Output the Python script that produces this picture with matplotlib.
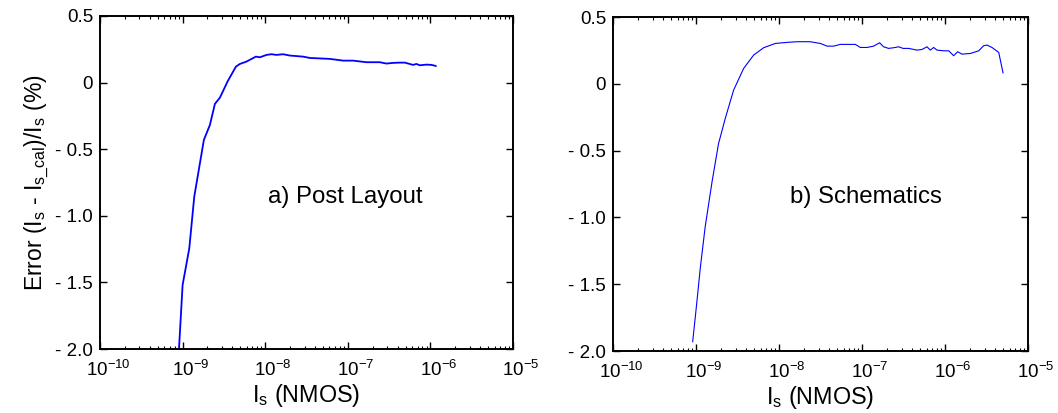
import matplotlib
matplotlib.use("Agg")
import matplotlib.pyplot as plt
from matplotlib.ticker import LogLocator, NullFormatter
from matplotlib.transforms import ScaledTranslation

plt.rcParams['font.family'] = ['Liberation Sans', 'DejaVu Sans']
plt.rcParams['mathtext.fontset'] = 'custom'
plt.rcParams['mathtext.rm'] = 'Liberation Sans'
plt.rcParams['mathtext.it'] = 'Liberation Sans'
plt.rcParams['mathtext.default'] = 'regular'

# a) post layout
post_is = [9.04e-10, 1.0e-9, 1.205e-9, 1.384e-9, 1.81e-9, 2.14e-9, 2.46e-9, 2.83e-9,
           3.50e-9, 4.42e-9, 4.94e-9, 5.94e-9, 7.71e-9, 8.61e-9, 1.04e-8, 1.19e-8,
           1.37e-8, 1.65e-8, 1.99e-8, 2.88e-8, 3.47e-8, 6.05e-8, 8.79e-8, 1.16e-7,
           1.68e-7, 2.44e-7, 2.94e-7, 3.53e-7, 4.26e-7, 4.90e-7, 6.17e-7, 6.78e-7,
           7.43e-7, 8.95e-7, 1.03e-6, 1.16e-6]
post_err = [-2.0, -1.52, -1.244, -0.856, -0.43, -0.318, -0.16, -0.113,
            0.008, 0.12, 0.14, 0.158, 0.195, 0.19, 0.208, 0.213,
            0.208, 0.213, 0.203, 0.195, 0.185, 0.178, 0.165, 0.165,
            0.153, 0.153, 0.143, 0.148, 0.15, 0.15, 0.133, 0.14,
            0.13, 0.135, 0.133, 0.125]

# b) schematics
sch_is = [9.12e-10, 1.0e-9, 1.13e-9, 1.29e-9, 1.56e-9, 1.87e-9, 2.25e-9, 2.84e-9,
          3.75e-9, 4.95e-9, 6.53e-9, 9.03e-9, 1.25e-8, 1.65e-8, 2.38e-8, 3.15e-8,
          3.79e-8, 4.56e-8, 5.48e-8, 8.32e-8, 9.55e-8, 1.15e-7, 1.38e-7, 1.63e-7,
          1.82e-7, 2.09e-7, 2.41e-7, 2.77e-7, 3.12e-7, 3.65e-7, 4.60e-7, 5.28e-7,
          6.07e-7, 6.65e-7, 7.29e-7, 8.02e-7, 9.64e-7, 1.11e-6, 1.27e-6, 1.42e-6,
          1.60e-6, 2.02e-6, 2.55e-6, 2.92e-6, 3.21e-6, 3.68e-6, 4.44e-6, 5.00e-6]
sch_err = [-1.93, -1.696, -1.371, -1.071, -0.734, -0.447, -0.26, -0.047,
           0.115, 0.215, 0.27, 0.302, 0.31, 0.315, 0.315, 0.302,
           0.282, 0.282, 0.295, 0.295, 0.272, 0.272, 0.282, 0.307,
           0.277, 0.265, 0.27, 0.277, 0.265, 0.265, 0.252, 0.257,
           0.277, 0.252, 0.272, 0.252, 0.247, 0.247, 0.21, 0.24,
           0.222, 0.227, 0.247, 0.285, 0.29, 0.272, 0.235, 0.082]

yticks = [0.5, 0, -0.5, -1.0, -1.5, -2.0]
ytick_labels = ['0.5', '0', '- 0.5', '- 1.0', '- 1.5', '- 2.0']
xticks = [1e-10, 1e-9, 1e-8, 1e-7, 1e-6, 1e-5]
xtick_labels = ['$10^{-10}$', '$10^{-9}$', '$10^{-8}$', '$10^{-7}$', '$10^{-6}$', '$10^{-5}$']

fig = plt.figure(figsize=(10.58, 4.13), dpi=100)
ax1 = fig.add_axes([100 / 1058, 64 / 413, 413 / 1058, 333 / 413])
ax2 = fig.add_axes([613 / 1058, 62 / 413, 415 / 1058, 334 / 413])

ax1.plot(post_is, post_err, color='#0000ff', lw=1.3)
ax2.plot(sch_is, sch_err, color='#0000ff', lw=0.8)

# exponent hangs to the right of the "10"
shift = ScaledTranslation(8 / 100, 0, fig.dpi_scale_trans)

for ax, label, tx, ty in [(ax1, 'a) Post Layout', 0.407, 0.456),
                          (ax2, 'b) Schematics', 0.426, 0.461)]:
    ax.set_xscale('log')
    ax.set_xlim(1e-10, 1e-5)
    ax.set_ylim(-2.0, 0.5)
    ax.set_xticks(xticks)
    ax.set_xticklabels(xtick_labels)
    ax.xaxis.set_minor_locator(LogLocator(base=10, subs=range(2, 10), numticks=20))
    ax.xaxis.set_minor_formatter(NullFormatter())
    ax.set_yticks(yticks)
    ax.set_yticklabels(ytick_labels)
    ax.tick_params(which='both', direction='in', top=True, right=True, labelsize=13.5)
    ax.tick_params(which='major', length=5, width=1)
    ax.tick_params(which='minor', length=2.5, width=0.8)
    ax.tick_params(axis='x', pad=8)
    ax.tick_params(axis='y', pad=5)
    for t in ax.get_xticklabels():
        t.set_transform(t.get_transform() + shift)
    for s in ax.spines.values():
        s.set_linewidth(1.4)
    ax.set_xlabel('I$_s$ (NMOS)', fontsize=16.8, labelpad=1)
    ax.text(tx, ty, label, transform=ax.transAxes, fontsize=17.3, va='center', ha='left')

ax1.set_ylabel('Error (I$_s$ - I$_{s\\_cal}$)/I$_s$ (%)', fontsize=16.5, labelpad=3)

fig.savefig('out.png', dpi=100)
